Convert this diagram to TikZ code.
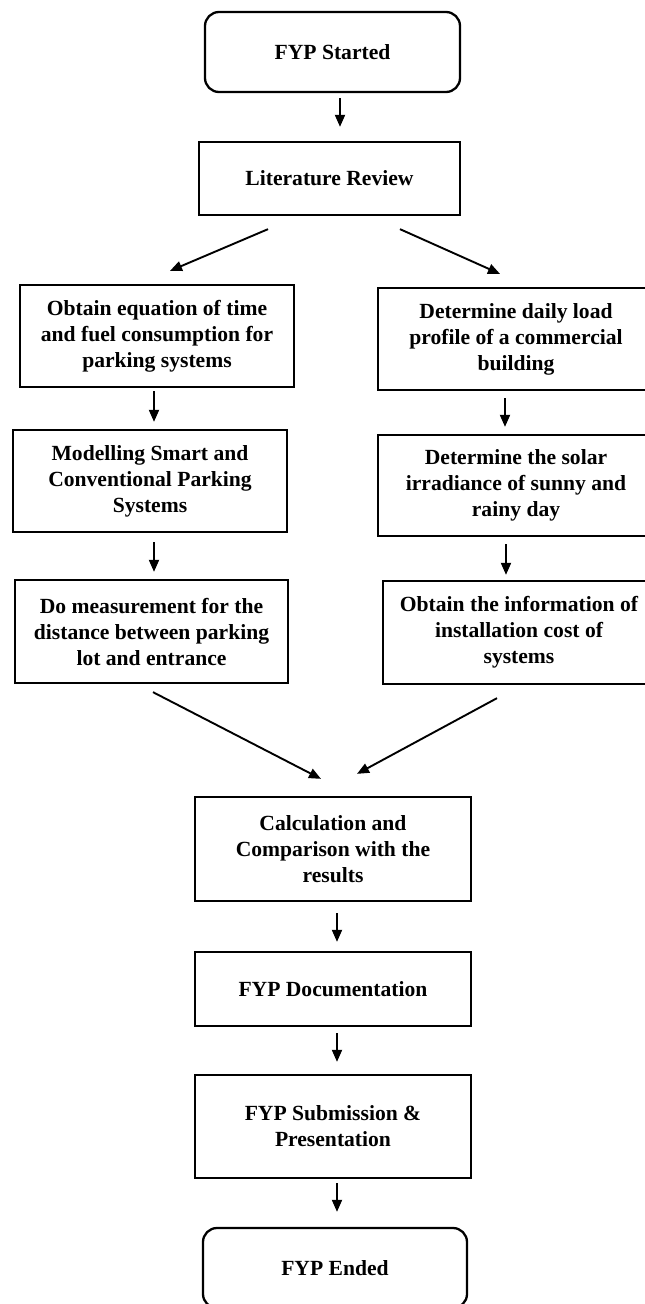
\documentclass[tikz,border=0pt]{standalone}
\usepackage{fontspec}
\setmainfont{Liberation Serif}
\usepackage{tikz}
\usetikzlibrary{arrows.meta}
\tikzstyle{term}=[rectangle,rounded corners=14pt,draw=black,line width=2.3pt,
  align=center,font=\fontsize{21.6}{26}\selectfont\bfseries,inner sep=2pt]
\tikzstyle{proc}=[rectangle,draw=black,line width=2.3pt,
  align=center,font=\fontsize{21.6}{26}\selectfont\bfseries,inner sep=2pt]
\tikzstyle{arr}=[line width=1.9pt,-{Triangle[length=12pt,width=10pt]}]

\begin{document}
\begin{tikzpicture}[x=1pt,y=-1pt]
            \useasboundingbox (0,0) rectangle (645,1304);
            \node [style=term,minimum width=255,minimum height=80] (start) at (332.5, 52) {FYP Started};
            \node [style=proc,minimum width=261,minimum height=73] (lit) at (329.5, 178.5) {Literature Review};
            \node [style=proc,minimum width=274,minimum height=102] (obt) at (157, 336) {Obtain equation of time\\and fuel consumption for\\parking systems};
            \node [style=proc,minimum width=274,minimum height=102] (mod) at (150, 481) {Modelling Smart and\\Conventional Parking\\Systems};
            \node [style=proc,minimum width=273,minimum height=103] (meas) at (151.5, 631.5) {Do measurement for the\\distance between parking\\lot and entrance};
            \node [style=proc,minimum width=276,minimum height=102] (load) at (516, 339) {Determine daily load\\profile of a commercial\\building};
            \node [style=proc,minimum width=276,minimum height=101] (solar) at (516, 485.5) {Determine the solar\\irradiance of sunny and\\rainy day};
            \node [style=proc,minimum width=272,minimum height=103] (cost) at (519, 632.5) {Obtain the information of\\installation cost of\\systems};
            \node [style=proc,minimum width=276,minimum height=104] (calc) at (333, 849) {Calculation and\\Comparison with the\\results};
            \node [style=proc,minimum width=276,minimum height=74] (doc) at (333, 989) {FYP Documentation};
            \node [style=proc,minimum width=276,minimum height=103] (sub) at (333, 1126.5) {FYP Submission \&\\Presentation};
            \node [style=term,minimum width=264,minimum height=80] (end) at (335, 1268) {FYP Ended};
            \draw [style=arr] ([shift={(7.5,5)}]start.south) to ([shift={(10.5,-14)}]lit.north);
            \draw [style=arr] ([shift={(-61.5,13)}]lit.south) to ([shift={(13,-13)}]obt.north);
            \draw [style=arr] ([shift={(70.5,13)}]lit.south) to ([shift={(-16,-13)}]load.north);
            \draw [style=arr] ([shift={(-3,3)}]obt.south) to ([shift={(4,-7)}]mod.north);
            \draw [style=arr] ([shift={(4,9)}]mod.south) to ([shift={(2.5,-7)}]meas.north);
            \draw [style=arr] ([shift={(-11,7)}]load.south) to ([shift={(-11,-7)}]solar.north);
            \draw [style=arr] ([shift={(-10,7)}]solar.south) to ([shift={(-13,-5)}]cost.north);
            \draw [style=arr] ([shift={(1.5,8)}]meas.south) to ([shift={(-12,-17)}]calc.north);
            \draw [style=arr] ([shift={(-22,13)}]cost.south) to ([shift={(24,-22)}]calc.north);
            \draw [style=arr] ([shift={(4,11)}]calc.south) to ([shift={(4,-9)}]doc.north);
            \draw [style=arr] ([shift={(4,6)}]doc.south) to ([shift={(4,-12)}]sub.north);
            \draw [style=arr] ([shift={(4,4)}]sub.south) to ([shift={(2,-15)}]end.north);
    \end{tikzpicture}
\end{document}
